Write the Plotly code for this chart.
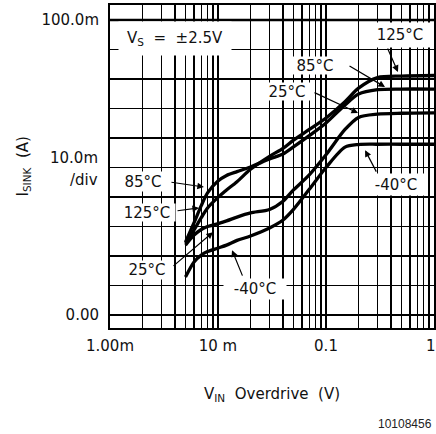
import math
import plotly.graph_objects as go

# ---------------- data ----------------
v_in = [0.005, 0.006, 0.007, 0.008, 0.010, 0.012, 0.015, 0.020, 0.030,
        0.040, 0.050, 0.070, 0.100, 0.150, 0.200, 0.300, 0.500, 1.0]
# sink current in mA
i_sink_125 = [24.4, 28.9, 33.0, 36.3, 39.9, 42.4, 45.2, 49.4, 53.8,
              56.5, 59.3, 62.9, 66.8, 72.3, 76.9, 80.5, 81.0, 81.2]
i_sink_85 = [24.7, 31.3, 37.1, 41.4, 45.4, 47.3, 48.6, 50.2, 52.9,
             54.6, 57.0, 60.8, 65.1, 71.2, 74.9, 76.4, 76.6, 76.6]
i_sink_25 = [23.7, 27.1, 29.0, 30.0, 31.0, 31.9, 33.2, 34.6, 35.8,
             38.6, 42.4, 47.5, 54.3, 62.9, 67.0, 68.1, 68.4, 68.5]
i_sink_m40 = [12.9, 18.0, 20.3, 21.5, 22.7, 23.7, 25.3, 26.8, 29.5,
              32.2, 35.8, 42.6, 50.0, 56.9, 57.8, 57.9, 57.9, 57.9]

x_decades = [0.001, 0.01, 0.1, 1.0]
x_decade_labels = ["1.00m", "10 m", "0.1", "1"]
y_ticks = [0, 10, 20, 30, 40, 50, 60, 70, 80, 90, 100]
y_tick_labels = ["0.00", "", "", "", "", "", "", "", "", "", "100.0m"]

series_names = ["125°C", "85°C", "25°C", "-40°C"]

FONT = "DejaVu Sans"

# gridlines at every 1..9 within each decade, labels only on decades
x_tickvals, x_ticktext = [], []
for d, lab in zip(x_decades[:-1], x_decade_labels[:-1]):
    for m in range(1, 10):
        x_tickvals.append(d * m)
        x_ticktext.append(lab if m == 1 else "")
x_tickvals.append(x_decades[-1])
x_ticktext.append(x_decade_labels[-1])

fig = go.Figure()
for name, ys in zip(series_names, [i_sink_125, i_sink_85, i_sink_25, i_sink_m40]):
    fig.add_trace(go.Scatter(
        x=v_in, y=ys, mode="lines", name=name,
        line=dict(color="black", width=3.3, shape="spline", smoothing=0.8),
        showlegend=False, hoverinfo="skip"))

fig.update_layout(
    width=436, height=434,
    margin=dict(l=110, r=2, t=5, b=106, autoexpand=False),
    paper_bgcolor="white", plot_bgcolor="white",
    font=dict(family=FONT, size=15, color="black"),
    xaxis=dict(type="log", range=[-3, 0], tickmode="array",
               tickvals=x_tickvals, ticktext=x_ticktext,
               showgrid=True, gridcolor="black", gridwidth=1.2,
               showline=True, linecolor="black", linewidth=2, mirror=True,
               ticks="", ticklabelstandoff=3, zeroline=False, automargin=False,
               tickfont=dict(family=FONT, size=15, color="#111")),
    yaxis=dict(range=[-4.4, 105.1], tickmode="array",
               tickvals=y_ticks, ticktext=y_tick_labels,
               showgrid=True, gridcolor="black", gridwidth=1.2,
               zeroline=True, zerolinecolor="black", zerolinewidth=2.6,
               showline=True, linecolor="black", linewidth=2, mirror=True,
               ticks="", ticklabelstandoff=6, automargin=False,
               tickfont=dict(family=FONT, size=15, color="#111")),
)

# thick 100.0m line
fig.add_shape(type="line", xref="paper", x0=0, x1=1, yref="y", y0=100, y1=100,
              line=dict(color="black", width=2.6), layer="between")

lg = math.log10

# label boxes: (text, x, y, width, height)
labels = [
    ("V<sub>S</sub>  =  ±2.5V", 0.0040, 93.9, 112, 33),
    ("125°C", 0.484, 94.9, 64, 24),
    ("85°C", 0.079, 84.7, 50, 17),
    ("25°C", 0.0435, 75.9, 46, 17),
    ("-40°C", 0.445, 44.1, 58, 21),
    ("85°C", 0.00202, 45.1, 48, 19),
    ("125°C", 0.0022, 34.9, 56, 17),
    ("25°C", 0.0022, 15.25, 46, 18),
    ("-40°C", 0.022, 8.8, 62, 20),
]
for t, x, y, w, h in labels:
    fig.add_annotation(text=t, x=lg(x), y=y, xref="x", yref="y",
                       showarrow=False, bgcolor="white", width=w, height=h,
                       borderpad=0, align="center", valign="middle",
                       xanchor="center", yanchor="middle",
                       font=dict(family=FONT, size=15, color="#111"))

# arrows: tip (x, y) and tail offset in pixels
arrows = [
    (0.464, 82.4, -11, -25),
    (0.352, 77.3, -37, -22),
    (0.198, 68.5, -45, -21),
    (0.230, 55.9, 12, 23),
    (0.00741, 43.4, -34, -5),
    (0.00667, 36.3, -23, 3),
    (0.00899, 28.1, -41, 35),
    (0.01349, 22.0, 11, 27),
]
for x, y, ax, ay in arrows:
    fig.add_annotation(text="", x=lg(x), y=y, xref="x", yref="y",
                       ax=ax, ay=ay, showarrow=True, arrowhead=2,
                       arrowsize=1.1, arrowwidth=1.2, arrowcolor="black",
                       standoff=0, startstandoff=0)

# last decade label ("1") sits on the right edge; plotly drops it, so place it
fig.add_annotation(text=x_decade_labels[-1], xref="x", yref="paper",
                   x=lg(x_decades[-1]) - 0.028, y=-0.0557, xanchor="center",
                   yanchor="middle", showarrow=False,
                   font=dict(family=FONT, size=15, color="#111"))

# y-axis side texts
fig.add_annotation(text="10.0m", xref="paper", yref="y", x=-0.031, y=53.2,
                   xanchor="right", yanchor="middle", showarrow=False,
                   font=dict(family=FONT, size=15, color="#111"))
fig.add_annotation(text="/div", xref="paper", yref="y", x=-0.031, y=45.8,
                   xanchor="right", yanchor="middle", showarrow=False,
                   font=dict(family=FONT, size=15, color="#111"))
fig.add_annotation(text="I<sub>SINK</sub>  (A)", xref="paper", yref="paper",
                   x=-0.2685, y=0.5, textangle=-90, xanchor="center",
                   yanchor="middle", showarrow=False,
                   font=dict(family=FONT, size=15, color="#111"))
fig.add_annotation(text="V<sub>IN</sub>  Overdrive  (V)", xref="paper", yref="paper",
                   x=0.5, y=-0.2074, xanchor="center", yanchor="middle",
                   showarrow=False, font=dict(family=FONT, size=15, color="#111"))
fig.add_annotation(text="10108456", xref="paper", yref="paper",
                   x=1.0, y=-0.297, xanchor="right", yanchor="middle",
                   showarrow=False,
                   font=dict(family="Liberation Sans", size=12, color="#222"))

fig.write_html("out.html",
               config={"displayModeBar": False, "staticPlot": True},
               post_script="document.body.style.margin='0';"
                           "document.body.style.overflow='hidden';")
